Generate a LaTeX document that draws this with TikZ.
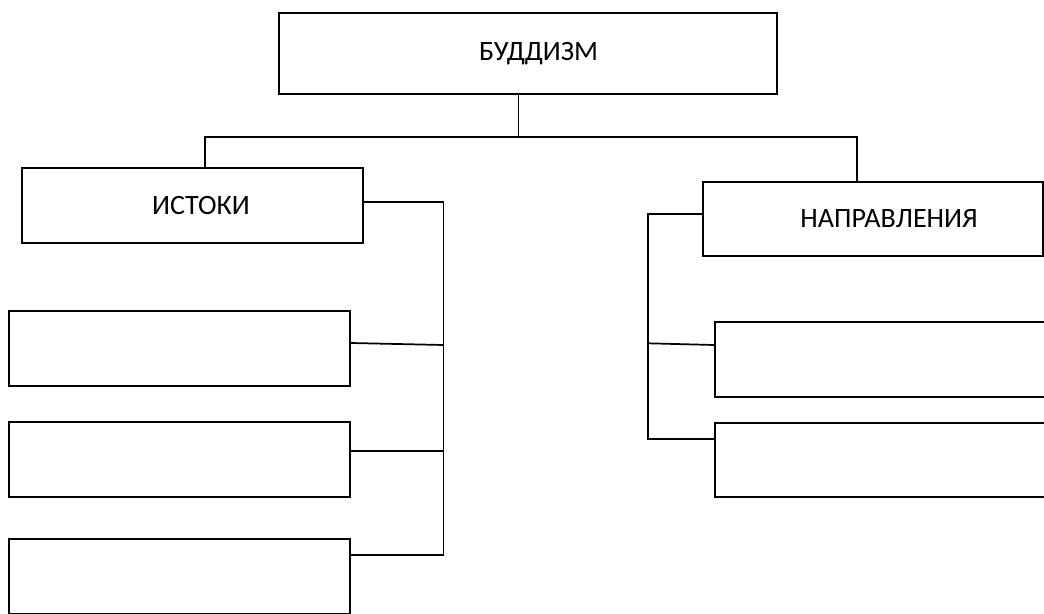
\documentclass[tikz,border=0pt]{standalone}
\usepackage{fontspec}
\setmainfont{Carlito}
\usetikzlibrary{positioning}

\begin{document}
\begin{tikzpicture}[x=0.75pt, y=-0.75pt,
    box/.style={draw, line width=1.6pt, inner sep=0pt,
      minimum width=255.75pt, minimum height=56.25pt,
      font=\fontsize{21}{25}\selectfont},
    link/.style={line width=1.3pt}
  ]
    \useasboundingbox (0,0) rectangle (1044,613);
    \clip (0,0) rectangle (1044,613);
    % boxes
    \node[box, minimum width=373.5pt, minimum height=60.75pt] (budd) at (528,53.5) {\hspace*{15.75pt}БУДДИЗМ};
    \node[box] (ist) at (192.5,205.5) {\hspace*{12.75pt}ИСТОКИ};
    \node[box, minimum width=255pt, minimum height=55.5pt] (napr) at (873,219) {\hspace*{24pt}НАПРАВЛЕНИЯ};
    \node[box] (ist1) at (179.5,348.5) {};
    \node[box] (ist2) at (179.5,459.5) {};
    \node[box] (ist3) at (179.5,576.5) {};
    \node[box, minimum width=255pt] (napr1) at (885,359.5) {};
    \node[box, minimum width=255pt, minimum height=55.5pt] (napr2) at (885,460) {};
    % junctions
    \coordinate (bar) at (518.6,137);
    \coordinate (barL) at (204.7,137);
    \coordinate (barR) at (856.7,137);
    \coordinate (busL0) at (443.5,201.7);
    \coordinate (busL1) at (443.5,345);
    \coordinate (busL2) at (443.5,451);
    \coordinate (busL3) at (443.5,555);
    \coordinate (busR0) at (648,214.3);
    \coordinate (busR1) at (648,343.3);
    \coordinate (busR2) at (648,439.3);
    % connectors
    \draw[link] (budd.south -| bar) -- (bar);
    \draw[link] (ist.north -| barL) -- (barL) -- (barR) -- (napr.north -| barR);
    \draw[link] (ist.east |- busL0) -- (busL0) -- (busL3) -- (ist3.east |- busL3);
    \draw[link] (ist1.east |- 0,343) -- (busL1);
    \draw[link] (ist2.east |- busL2) -- (busL2);
    \draw[link] (napr.west |- busR0) -- (busR0) -- (busR2) -- (napr2.west |- busR2);
    \draw[link] (busR1) -- (napr1.west |- 0,345);
\end{tikzpicture}
\end{document}
